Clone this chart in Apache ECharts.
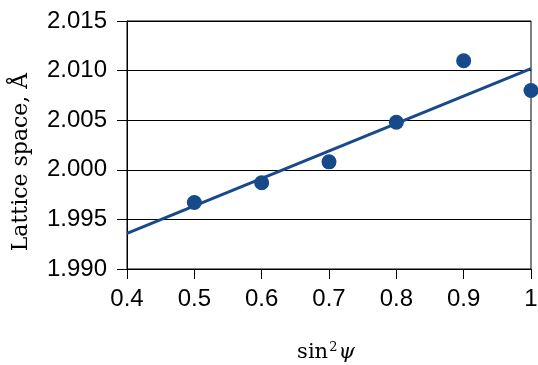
<!DOCTYPE html>
<html>
<head>
<meta charset="utf-8">
<script src="https://cdn.jsdelivr.net/npm/echarts@6/dist/echarts.min.js"></script>
<style>html,body{margin:0;padding:0;background:#fff;}#c{width:538px;height:365px;}</style>
</head>
<body>
<div id="c"></div>
<script>
const xValues = [0.5, 0.6, 0.7, 0.8, 0.9, 1.0];
const yValues = [1.9967, 1.9987, 2.0008, 2.0048, 2.0110, 2.0080];
const fitX = [0.4, 1.0];
const fitY = [1.9936, 2.0102];
const xTicks = [0.4, 0.5, 0.6, 0.7, 0.8, 0.9, 1];
const yTicks = [1.990, 1.995, 2.000, 2.005, 2.010, 2.015];

const color = '#174a8a';
const chart = echarts.init(document.getElementById('c'));
chart.setOption({
  animation: false,
  grid: {left: 127, right: 7, top: 21, bottom: 96, outerBoundsMode: 'none', containLabel: false,
    show: true, borderColor: '#000', borderWidth: 1, backgroundColor: 'transparent'},
  xAxis: {
    type: 'value', min: xTicks[0], max: xTicks[xTicks.length - 1], interval: 0.1,
    name: '{a|sin}{s|2}{p|ψ}', nameLocation: 'middle', nameGap: 72,
    nameTextStyle: {padding: [0, 6, 0, 0], rich: {
      a: {fontFamily: 'DejaVu Serif', fontSize: 21, color: '#000'},
      s: {fontFamily: 'DejaVu Serif', fontSize: 13, color: '#000', verticalAlign: 'top', padding: [0, 1, 10, 1]},
      p: {fontFamily: 'DejaVu Serif', fontStyle: 'italic', fontSize: 21, color: '#000'}
    }},
    axisLine: {show: true, lineStyle: {color: '#000', width: 1}},
    axisTick: {show: true, inside: false, length: 10, lineStyle: {color: '#000'}},
    axisLabel: {fontFamily: 'Liberation Sans', fontSize: 24, color: '#000', margin: 18,
      formatter: v => String(Math.round(v * 10) / 10)},
    splitLine: {show: false}
  },
  yAxis: {
    type: 'value', min: yTicks[0], max: yTicks[yTicks.length - 1], interval: 0.005,
    name: 'Lattice space, Å', nameLocation: 'middle', nameGap: 95,
    nameTextStyle: {fontFamily: 'DejaVu Serif', fontSize: 22, color: '#000', padding: [0, 34, 0, 0]},
    axisLine: {show: true, lineStyle: {color: '#000', width: 1}},
    axisTick: {show: true, inside: false, length: 10, lineStyle: {color: '#000'}},
    axisLabel: {fontFamily: 'Liberation Sans', fontSize: 24, color: '#000', margin: 20,
      formatter: v => v.toFixed(3)},
    splitLine: {show: true, lineStyle: {color: '#000', width: 1}}
  },
  series: [
    {
      type: 'line', data: fitX.map((x, i) => [x, fitY[i]]),
      showSymbol: false, symbol: 'none',
      lineStyle: {color: color, width: 3}, z: 2
    },
    {
      type: 'scatter', data: xValues.map((x, i) => [x, yValues[i]]),
      symbol: 'circle', symbolSize: 15,
      itemStyle: {color: color, opacity: 1}, z: 3
    }
  ]
});
</script>
</body>
</html>
